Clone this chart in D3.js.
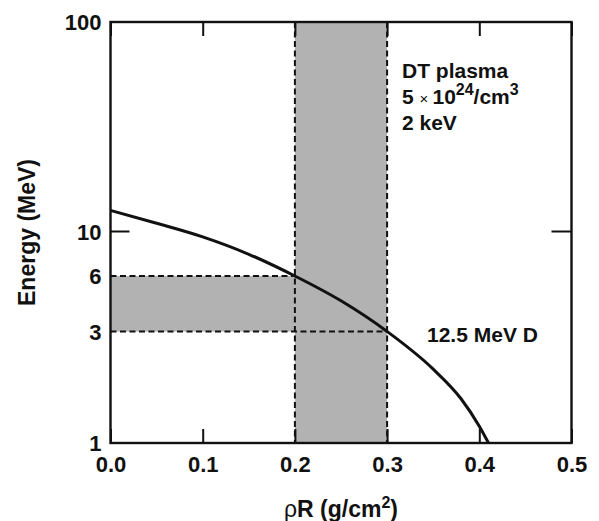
<!DOCTYPE html>
<html>
<head>
<script src="https://d3js.org/d3.v7.min.js"></script>
<style>
    body { margin: 0; background: #fff; }
    text { font-family: "Liberation Sans", Arial, sans-serif; font-weight: bold; fill: #111; }
</style>
</head>
<body>
<svg id="chart" width="599" height="521"></svg>
<script>
// stopping curve of a 12.5 MeV deuteron in DT plasma
var rhoR   = [0, 0.05, 0.10, 0.15, 0.20, 0.25, 0.30, 0.35, 0.38, 0.40, 0.41];
var energy = [12.6, 10.95, 9.4, 7.7, 6.0, 4.4, 3.0, 2.07, 1.55, 1.18, 1.0];

var xTicks = [0, 0.1, 0.2, 0.3, 0.4, 0.5];
var yLabels = [1, 3, 6, 10, 100];
var yTickMarks = [10];

var rhoBand = [0.2, 0.3];
var energyBand = [3, 6];

var curveLabel = "12.5 MeV D";

var pLeft = 110.5, pRight = 571.5, pTop = 22, pBottom = 443;
var svg = d3.select("#chart");

var x = d3.scaleLinear().domain([0, 0.5]).range([pLeft, pRight]);
// log axis; the 3 and 6 labels in the original sit a little off the true log spot,
// so the scale is piecewise log through those values
var y = d3.scaleLog().domain([1, 3, 6, 10, 100]).range([pBottom, 331.5, 276, 231.5, pTop]);

var gray = "#b2b2b2";
var ink = "#111";

// shaded bands
svg.append("rect")
    .attr("x", x(rhoBand[0])).attr("y", pTop)
    .attr("width", x(rhoBand[1]) - x(rhoBand[0]))
    .attr("height", pBottom - pTop)
    .attr("fill", gray);
svg.append("rect")
    .attr("x", x(0)).attr("y", y(energyBand[1]))
    .attr("width", x(rhoBand[0]) - x(0))
    .attr("height", y(energyBand[0]) - y(energyBand[1]))
    .attr("fill", gray);

// dashed guide lines
var dash = "6,3.5";
rhoBand.forEach(function(r) {
    svg.append("line")
        .attr("x1", x(r)).attr("x2", x(r))
        .attr("y1", pTop).attr("y2", pBottom)
        .attr("stroke", ink).attr("stroke-width", 2).attr("stroke-dasharray", dash);
});
svg.append("line")
    .attr("x1", x(0)).attr("x2", x(rhoBand[0]))
    .attr("y1", y(energyBand[1])).attr("y2", y(energyBand[1]))
    .attr("stroke", ink).attr("stroke-width", 2).attr("stroke-dasharray", dash);
svg.append("line")
    .attr("x1", x(0)).attr("x2", x(rhoBand[1]))
    .attr("y1", y(energyBand[0])).attr("y2", y(energyBand[0]))
    .attr("stroke", ink).attr("stroke-width", 2).attr("stroke-dasharray", dash);

// curve
var pts = rhoR.map(function(r, i) { return [r, energy[i]]; });
var line = d3.line()
    .x(function(d) { return x(d[0]); })
    .y(function(d) { return y(d[1]); })
    .curve(d3.curveMonotoneX);
svg.append("path")
    .datum(pts)
    .attr("d", line)
    .attr("fill", "none")
    .attr("stroke", ink)
    .attr("stroke-width", 3);

// axes
var fontFam = "'Liberation Sans', Arial, sans-serif";
var xAxis = svg.append("g")
    .attr("transform", "translate(0," + pBottom + ")")
    .call(d3.axisBottom(x).tickValues(xTicks).tickSize(-14).tickFormat(d3.format(".1f")));
xAxis.select(".domain").remove();
xAxis.selectAll("line").attr("stroke", ink).attr("stroke-width", 2);
xAxis.selectAll("text")
    .attr("y", 28.5).attr("dy", 0)
    .attr("font-size", 22).attr("font-family", fontFam).attr("font-weight", "bold").attr("fill", ink);

var xTop = svg.append("g")
    .attr("transform", "translate(0," + pTop + ")")
    .call(d3.axisTop(x).tickValues(xTicks).tickSize(-14).tickFormat(""));
xTop.select(".domain").remove();
xTop.selectAll("line").attr("stroke", ink).attr("stroke-width", 2);

var yAxis = svg.append("g")
    .attr("transform", "translate(" + pLeft + ",0)")
    .call(d3.axisLeft(y).tickValues(yLabels).tickSize(0).tickPadding(9).tickFormat(d3.format("d")));
yAxis.select(".domain").remove();
yAxis.selectAll("text")
    .attr("dy", "0.36em")
    .attr("font-size", 22).attr("font-family", fontFam).attr("font-weight", "bold").attr("fill", ink);

yTickMarks.forEach(function(v) {
    svg.append("line")
        .attr("x1", pLeft).attr("x2", pLeft + 19)
        .attr("y1", y(v)).attr("y2", y(v))
        .attr("stroke", ink).attr("stroke-width", 2);
    svg.append("line")
        .attr("x1", pRight - 20).attr("x2", pRight)
        .attr("y1", y(v)).attr("y2", y(v))
        .attr("stroke", ink).attr("stroke-width", 2);
});

// frame
svg.append("rect")
    .attr("x", pLeft).attr("y", pTop)
    .attr("width", pRight - pLeft).attr("height", pBottom - pTop)
    .attr("fill", "none").attr("stroke", ink).attr("stroke-width", 2.4);

// axis titles
var xt = svg.append("text")
    .attr("x", (pLeft + pRight) / 2).attr("y", 517)
    .attr("text-anchor", "middle")
    .attr("font-size", 23);
xt.append("tspan").attr("font-weight", "normal").text("\u03c1");
xt.append("tspan").text("R (g/cm");
xt.append("tspan").attr("font-size", 16).attr("dy", -9).text("2");
xt.append("tspan").attr("dy", 9).text(")");

svg.append("text")
    .attr("transform", "translate(35," + (pTop + pBottom) / 2 + ") rotate(-90)")
    .attr("text-anchor", "middle")
    .attr("font-size", 23)
    .text("Energy (MeV)");

// annotations
var ann = svg.append("g").attr("font-size", 21);
ann.append("text").attr("x", 402).attr("y", 78).text("DT plasma");
var t2 = ann.append("text").attr("x", 402).attr("y", 104);
t2.append("tspan").text("5 ");
t2.append("tspan").attr("font-size", 15).attr("font-weight", "normal").text("\u00d7 ");
t2.append("tspan").text("10");
t2.append("tspan").attr("font-size", 16).attr("dy", -9).text("24");
t2.append("tspan").attr("dy", 9).text("/cm");
t2.append("tspan").attr("font-size", 16).attr("dy", -9).text("3");
ann.append("text").attr("x", 402).attr("y", 130).text("2 keV");

svg.append("text")
    .attr("x", 427).attr("y", 342)
    .attr("font-size", 21)
    .text(curveLabel);
</script>
</body>
</html>
